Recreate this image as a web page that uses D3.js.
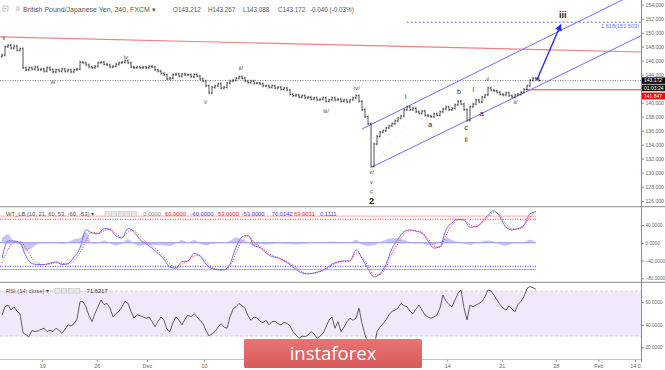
<!DOCTYPE html>
<html><head><meta charset="utf-8">
<script src="https://cdn.jsdelivr.net/npm/d3@7"></script>
<style>
html,body{margin:0;padding:0;background:#fff;overflow:hidden}
svg{display:block;font-family:"Liberation Sans",Arial,sans-serif}
</style></head><body>
<svg id="c" width="665" height="370"></svg>
<script>
// ---------- DATA ----------
const closes = [146.8,148.0,148.2,147.8,148.1,147.5,147.7,145.0,144.7,145.0,
144.8,145.1,144.7,144.8,144.5,145.0,144.7,144.4,144.7,144.5,
144.8,144.5,144.7,144.4,144.7,144.8,145.8,145.7,145.4,145.1,
145.0,145.2,145.7,145.8,145.5,145.4,145.1,145.2,145.5,145.7,
145.8,146.0,145.7,145.1,145.0,145.1,145.0,145.1,145.0,145.2,
145.1,144.7,144.5,144.2,144.0,143.4,143.5,144.0,144.1,143.8,
144.1,144.0,144.0,143.7,144.0,143.8,143.4,143.1,142.4,141.4,
142.2,142.4,142.7,142.1,142.2,142.8,143.1,143.2,143.5,143.7,
143.5,143.1,142.9,143.1,142.8,142.8,142.7,142.4,142.4,142.2,
142.4,142.1,142.2,141.9,142.1,141.8,141.2,141.0,141.1,140.8,
141.0,140.7,140.8,140.5,140.7,140.4,140.5,140.7,140.2,140.4,
140.7,140.4,140.5,140.2,140.4,140.1,140.4,140.7,141.0,140.2,
139.0,138.0,137.0,130.9,134.1,135.2,135.8,136.0,136.4,136.7,
137.0,137.4,137.8,138.1,139.0,139.4,139.0,139.2,138.7,138.5,
138.8,138.2,138.1,138.0,138.4,138.2,138.7,139.1,139.4,139.0,
139.2,139.7,140.2,139.8,139.0,137.5,139.4,139.8,140.4,140.1,
140.8,141.1,142.1,141.8,141.7,141.5,141.2,141.1,141.4,141.0,
140.8,141.1,141.2,141.5,141.9,142.4,143.2,143.5,143.4,143.172];
const firstOpen = 146.6;

// WaveTrend (one value every 2 bars)
const wt1 = [-35,4,4,-1,-30,-47,-49,-49,-46,-43,
-49,-47,-32,-12,29,22,20,32,30,15,
11,32,25,7,-2,-12,-24,-37,-55,-57,
-42,-41,-24,-30,-48,-58,-61,-61,-48,-10,
13,17,-6,-11,-23,-31,-34,-41,-49,-60,
-68,-70,-68,-64,-58,-48,-43,-41,-41,-16,
-35,-59,-77,-70,-48,-13,8,25,29,26,
22,4,-12,-9,29,45,53,51,35,36,
47,62,72,58,35,29,32,40,65,70.0142];
const wt2 = [-45,-15,2,3,-12,-35,-46,-49,-48,-45,
-46,-48,-40,-22,5,24,21,27,31,21,
12,24,28,14,2,-7,-19,-31,-48,-56,
-48,-41,-30,-28,-42,-55,-60,-61,-53,-22,
5,15,2,-9,-19,-28,-33,-39,-46,-56,
-65,-69,-69,-65,-60,-51,-45,-42,-41,-23,
-31,-52,-72,-72,-55,-23,-2,19,27,27,
23,9,-7,-10,17,39,51,52,40,36,
44,57,69,62,42,31,31,38,58,69.9031];
const wtLevels = {ob1:60, ob2:53, os1:-60, os2:-53};

// RSI (one value per bar)
const rsi = [48.7,56,57.6,53,56,52,50,33,31,29.4,
35,34,34.5,36,37,34,35,34,37,35,
32.4,36,40,39,41,45,60.5,60.5,56,48,
42.8,50,56,62,58,59,55,47,50,52,
56,61,59,52,45.8,49,48,47,45.8,47,
42.8,38.3,43,47,44,36,34,42,47,44,
40,45,48.7,47,50,47,44,41,35,30,
32,34,38,41,38,37,47,54,56,59,
57,54.7,48,44,47,46,43,42,44,40,
42.8,43,41,40,42,41.3,39,34,31,28,
30,29.4,31,34,32,28,30,32.4,38,44.3,
47,37,42.8,34,38,42.8,45.8,44,46,54.7,
41.3,31,23.6,20,19,34,38,41,44.3,49,
52,53,55,59,57,56,52,50,54,57.6,
53,48.7,47,45.8,47,48.7,55,66.5,61,58,
56,62,68,71,55,44.3,57.6,56,57.6,59,
60.5,65,71,70,66.5,62,58,55,53,57,
54,51.6,58,61,65,72.4,74,73,71.6217];

const priceTicks = [126,128,130,132,134,136,138,140,144,146,148,150,152,154];
const wtTicks = [40,0,-40,-80];
const rsiTicks = [60,40,20];
const timeLabels = ["19","26","Dec","10","14","21","28","Feb","14:0"];
const timeSlots = [13.4,31.6,48.3,67.3,148.4,166.6,184.6,198.8,211];

const lastPrice = 143.172, redLevel = 141.847, fibLevel = 151.503;
const waveLabels = [
  {t:"ii",s:0.6,p:149.3,k:"s"},{t:"iii",s:17,p:142.96,k:"s"},{t:"iv",s:41.2,p:146.49,k:"s"},
  {t:"i/",s:67.9,p:140.14,k:"s"},{t:"ii/",s:79.6,p:144.91,k:"s"},{t:"iii/",s:108,p:138.81,k:"s"},
  {t:"iv/",s:118.2,p:142.06,k:"s"},{t:"v/",s:123.2,p:130.06,k:"s"},{t:"v",s:123.2,p:128.71,k:"s"},
  {t:"c",s:123.2,p:127.39,k:"s"},{t:"2",s:123.2,p:126.0,k:"b"},{t:"i",s:134.6,p:140.86,k:"m"},
  {t:"a",s:142.7,p:136.81,k:"m"},{t:"b",s:152.3,p:141.57,k:"m"},{t:"i",s:157.1,p:141.81,k:"m"},
  {t:"c",s:154.7,p:136.49,k:"m"},{t:"ii",s:154.7,p:134.67,k:"m"},{t:"a",s:159.9,p:138.49,k:"m"},
  {t:"i/",s:161.9,p:143.34,k:"s"},{t:"ii/",s:171.2,p:140.14,k:"s"},{t:"iii",s:186.9,p:152.53,k:"b"}
];
// drawings (slot, price)
const trendRed = [[-0.67,149.39],[213,147.24]];
const chUpper = [[120,136.24],[206.7,154.67]];
const chLower = [[123.3,130.81],[213,149.57]];
const arrowPts = [[178.2,143.17],[186.2,151.1]];

// ---------- SCALES ----------
const svg = d3.select("#c");
const AX = 641;
const x = d3.scaleLinear().domain([-0.67, 213]).range([0, AX]);
const yP = d3.scaleLinear().domain([126,154]).range([200.7,4.7]);
const yW = d3.scaleLinear().domain([-80,40]).range([278.3,225]);
const yR = d3.scaleLinear().domain([20,60]).range([347.3,302.3]);

const defs = svg.append("defs");
defs.append("clipPath").attr("id","cm").append("rect").attr("x",0).attr("y",0).attr("width",AX).attr("height",206.5);
defs.append("clipPath").attr("id","cw").append("rect").attr("x",0).attr("y",207).attr("width",AX).attr("height",75);
defs.append("clipPath").attr("id","cr").append("rect").attr("x",0).attr("y",283).attr("width",AX).attr("height",76);
defs.append("marker").attr("id","ah").attr("viewBox","0 0 10 10").attr("refX",8).attr("refY",5)
  .attr("markerWidth",5).attr("markerHeight",5).attr("orient","auto")
  .append("path").attr("d","M0,0 L10,5 L0,10 Z").attr("fill","#2a2aff");
const g1 = defs.append("linearGradient").attr("id","wm").attr("x1",0).attr("y1",0).attr("x2",0).attr("y2",1);
g1.append("stop").attr("offset","0").attr("stop-color","#e87474");
g1.append("stop").attr("offset","1").attr("stop-color","#d95a5a");

// ---------- MAIN PANEL ----------
const m = svg.append("g").attr("clip-path","url(#cm)");
const lineGen = d3.line().x(d=>x(d[0])).y(d=>yP(d[1]));
function extend(pts){
  const [a,b]=pts; const sl=(b[1]-a[1])/(b[0]-a[0]);
  return [a,[220, a[1]+sl*(220-a[0])]];
}
m.append("path").attr("d",lineGen(trendRed)).attr("stroke","#f08080").attr("stroke-width",1.2).attr("fill","none");
m.append("line").attr("x1",0).attr("x2",AX).attr("y1",yP(lastPrice)).attr("y2",yP(lastPrice))
  .attr("stroke","#555").attr("stroke-width",0.7).attr("stroke-dasharray","1,1.5");
m.append("line").attr("x1",x(174.7)).attr("x2",AX).attr("y1",yP(redLevel)).attr("y2",yP(redLevel))
  .attr("stroke","#ff3030").attr("stroke-width",1);
m.append("line").attr("x1",x(134.9)).attr("x2",AX).attr("y1",yP(fibLevel)).attr("y2",yP(fibLevel))
  .attr("stroke","#6a6aff").attr("stroke-width",1).attr("stroke-dasharray","2,2");
m.append("text").attr("x",639).attr("y",yP(fibLevel)+5.5).attr("text-anchor","end")
  .attr("font-size",5.6).attr("fill","#6a6aff").text("1.618(151.503)");
m.append("path").attr("d",lineGen(extend(chUpper))).attr("stroke","#6e6eff").attr("stroke-width",1).attr("fill","none");
m.append("path").attr("d",lineGen(extend(chLower))).attr("stroke","#6e6eff").attr("stroke-width",1).attr("fill","none");
m.append("path").attr("d",lineGen([[123.3,130.81],[135,137.06]])).attr("stroke","#ccc").attr("stroke-width",0.6)
  .attr("stroke-dasharray","1,2").attr("fill","none");

// OHLC bars
const bars = closes.map((c,i)=>({i, o: i? closes[i-1] : firstOpen, c}));
const cg = m.append("g").attr("stroke","#2a2a2a").attr("stroke-width",0.8);
cg.selectAll("line.v").data(bars).join("line").attr("class","v")
  .attr("x1",d=>x(d.i)).attr("x2",d=>x(d.i))
  .attr("y1",d=>yP(Math.max(d.o,d.c))-1.3).attr("y2",d=>yP(Math.min(d.o,d.c))+1.3);
cg.selectAll("line.o").data(bars).join("line").attr("class","o")
  .attr("x1",d=>x(d.i)-1.2).attr("x2",d=>x(d.i)).attr("y1",d=>yP(d.o)).attr("y2",d=>yP(d.o));
cg.selectAll("line.c").data(bars).join("line").attr("class","c")
  .attr("x1",d=>x(d.i)).attr("x2",d=>x(d.i)+1.2).attr("y1",d=>yP(d.c)).attr("y2",d=>yP(d.c));

m.append("path").attr("d",lineGen(arrowPts)).attr("stroke","#2a2aff").attr("stroke-width",1.4)
  .attr("fill","none").attr("marker-end","url(#ah)");

m.selectAll("text.w").data(waveLabels).join("text").attr("class","w")
  .attr("x",d=>x(d.s)).attr("y",d=>yP(d.p)).attr("dy","0.35em").attr("text-anchor","middle")
  .attr("font-size",d=>d.k==="b"?9:d.k==="m"?7:6)
  .attr("font-weight",d=>d.k==="b"?"bold":"normal")
  .attr("fill",d=>d.k==="s"?"#444":"#222").text(d=>d.t);

// ---------- WT PANEL ----------
const w = svg.append("g").attr("clip-path","url(#cw)");
const wtData = wt1.map((v,k)=>({s:2*k, a:v, b:wt2[k]}));
const wEnd = x(wtData[wtData.length-1].s);
[[wtLevels.ob1,"#ffaaaa",null],[wtLevels.ob2,"#ff3333","1,1.5"],[0,"#8c8ce0",null],
 [wtLevels.os2,"#4444ff","1,1.5"],[wtLevels.os1,"#aaaaff",null]].forEach(([v,c,da])=>{
  const l=w.append("line").attr("x1",0).attr("x2",wEnd).attr("y1",yW(v)).attr("y2",yW(v))
   .attr("stroke",c).attr("stroke-width",1);
  if(da) l.attr("stroke-dasharray",da);
});
w.append("path").datum(wtData).attr("d",d3.area().x(d=>x(d.s)).y0(yW(0)).y1(d=>yW(d.a-d.b)).curve(d3.curveMonotoneX))
  .attr("fill","#a0a0ff").attr("opacity",0.6);
w.append("path").datum(wtData).attr("d",d3.line().x(d=>x(d.s)).y(d=>yW(d.a)).curve(d3.curveMonotoneX))
  .attr("fill","none").attr("stroke","#7070ff").attr("stroke-width",1);
w.append("path").datum(wtData).attr("d",d3.line().x(d=>x(d.s)).y(d=>yW(d.b)).curve(d3.curveMonotoneX))
  .attr("fill","none").attr("stroke","#ff3030").attr("stroke-width",1).attr("stroke-dasharray","1,1.5");

// ---------- RSI PANEL ----------
const r = svg.append("g").attr("clip-path","url(#cr)");
r.append("rect").attr("x",0).attr("width",AX).attr("y",yR(70)).attr("height",yR(30)-yR(70)).attr("fill","#f2e8fc");
[70,30].forEach(v=>r.append("line").attr("x1",0).attr("x2",AX).attr("y1",yR(v)).attr("y2",yR(v))
  .attr("stroke","#c8c8c8").attr("stroke-width",0.8).attr("stroke-dasharray","3,2"));
r.append("path").datum(rsi).attr("d",d3.line().x((d,j)=>x(j)).y(d=>yR(d)))
  .attr("fill","none").attr("stroke","#3a3a3a").attr("stroke-width",0.8);

// ---------- AXES / FRAME ----------
svg.append("line").attr("x1",0).attr("x2",665).attr("y1",206.7).attr("y2",206.7).attr("stroke","#8a8a8a").attr("stroke-width",1);
svg.append("line").attr("x1",0).attr("x2",665).attr("y1",282.3).attr("y2",282.3).attr("stroke","#8a8a8a").attr("stroke-width",1);
svg.append("line").attr("x1",AX+0.5).attr("x2",AX+0.5).attr("y1",0).attr("y2",362).attr("stroke","#8a8a8a").attr("stroke-width",1);
svg.append("line").attr("x1",0).attr("x2",AX).attr("y1",359.5).attr("y2",359.5).attr("stroke","#c4c4c4").attr("stroke-width",1);

function yAxis(scale, ticks, fmt, fs){
  const ax = d3.axisRight(scale).tickValues(ticks).tickFormat(fmt).tickSize(2.5).tickPadding(1.5);
  const g = svg.append("g").attr("transform",`translate(${AX+0.5},0)`).call(ax);
  g.select(".domain").remove();
  g.selectAll("line").attr("stroke","#888");
  g.selectAll("text").attr("font-size",fs).attr("fill","#666").attr("font-family","Liberation Sans, Arial");
}
yAxis(yP, priceTicks, d3.format(".3f"), 5.1);
yAxis(yW, wtTicks, d3.format(".4f"), 4.7);
yAxis(yR, rsiTicks, d3.format(".4f"), 4.7);

const xa = d3.axisBottom(x).tickValues(timeSlots).tickFormat((d,i)=>timeLabels[i]).tickSize(2.5).tickPadding(2);
const xg = svg.append("g").attr("transform","translate(0,359.5)").call(xa);
xg.select(".domain").remove();
xg.selectAll("line").attr("stroke","#999");
xg.selectAll("text").attr("font-size",5.4).attr("fill","#666").attr("font-family","Liberation Sans, Arial");

function tag(y0,h,fill,txt){
  svg.append("rect").attr("x",AX+1).attr("y",y0).attr("width",24).attr("height",h).attr("fill",fill);
  svg.append("text").attr("x",AX+3).attr("y",y0+h/2).attr("dy","0.35em").attr("font-size",5).attr("fill","#fff").text(txt);
}
tag(77.3,6.6,"#111",d3.format(".3f")(lastPrice));
tag(84.6,6.6,"#111","01:03:24");
tag(92.6,6.8,"#f00",d3.format(".3f")(redLevel));

// ---------- LEGENDS ----------
function icons(x0,y0,n){
  for(let i=0;i<n;i++) svg.append("rect").attr("x",x0+i*6.6).attr("y",y0).attr("width",5).attr("height",5)
    .attr("fill","#e6e6e6").attr("stroke","#bdbdbd").attr("stroke-width",0.5);
}
svg.append("rect").attr("x",3).attr("y",6).attr("width",5).attr("height",5).attr("fill","none").attr("stroke","#999").attr("stroke-width",0.6);
svg.append("line").attr("x1",4.2).attr("x2",6.8).attr("y1",8.5).attr("y2",8.5).attr("stroke","#999").attr("stroke-width",0.6);
svg.append("rect").attr("x",16).attr("y",6).attr("width",4).attr("height",5).attr("fill","#ddd");
const hdr = svg.append("g").attr("fill","#555");
hdr.append("text").attr("x",23).attr("y",11.6).attr("font-size",7).text("British Pound/Japanese Yen, 240, FXCM \u25BE");
[["O143.212",173],["H143.267",208],["L143.088",243],["C143.172",278],["-0.040 (-0.03%)",310]]
  .forEach(([t,xx])=>hdr.append("text").attr("x",xx).attr("y",11.6).attr("font-size",6.3).text(t));

const wl = svg.append("g").attr("font-size",5.8);
wl.append("text").attr("x",6).attr("y",216).attr("fill","#555").text("WT_LB (10, 21, 60, 53, -60, -53) \u25BE");
icons(105,211.5,5);
[["0.0000",143.3,"#888"],["60.0000",165,"#ff2020"],["-60.0000",190.5,"#3a3aff"],["53.0000",218,"#ff2020"],
 ["-53.0000",241.7,"#3a3aff"],[d3.format(".4f")(wt1[wt1.length-1]),271.7,"#3a3aff"],
 [d3.format(".4f")(wt2[wt2.length-1]),294,"#ff2020"],[d3.format(".4f")(wt1[wt1.length-1]-wt2[wt2.length-1]),320,"#3a3aff"]]
 .forEach(([t,xx,c])=>wl.append("text").attr("x",xx).attr("y",216).attr("fill",c).text(t));
const rl = svg.append("g").attr("font-size",5.8);
rl.append("text").attr("x",6).attr("y",292.7).attr("fill","#555").text("RSI (14, close) \u25BE");
icons(55,288.2,4);
rl.append("text").attr("x",86.7).attr("y",292.7).attr("fill","#333").text(d3.format(".4f")(rsi[rsi.length-1]));

// ---------- WATERMARK ----------
svg.append("rect").attr("x",244).attr("y",339).attr("width",178).attr("height",29).attr("rx",1.5).attr("fill","url(#wm)");
svg.append("text").attr("x",333).attr("y",360).attr("text-anchor","middle").attr("font-family","Open Sans, sans-serif")
  .attr("font-size",18.5).attr("fill","#fff").text("instaforex");
</script>
</body></html>
